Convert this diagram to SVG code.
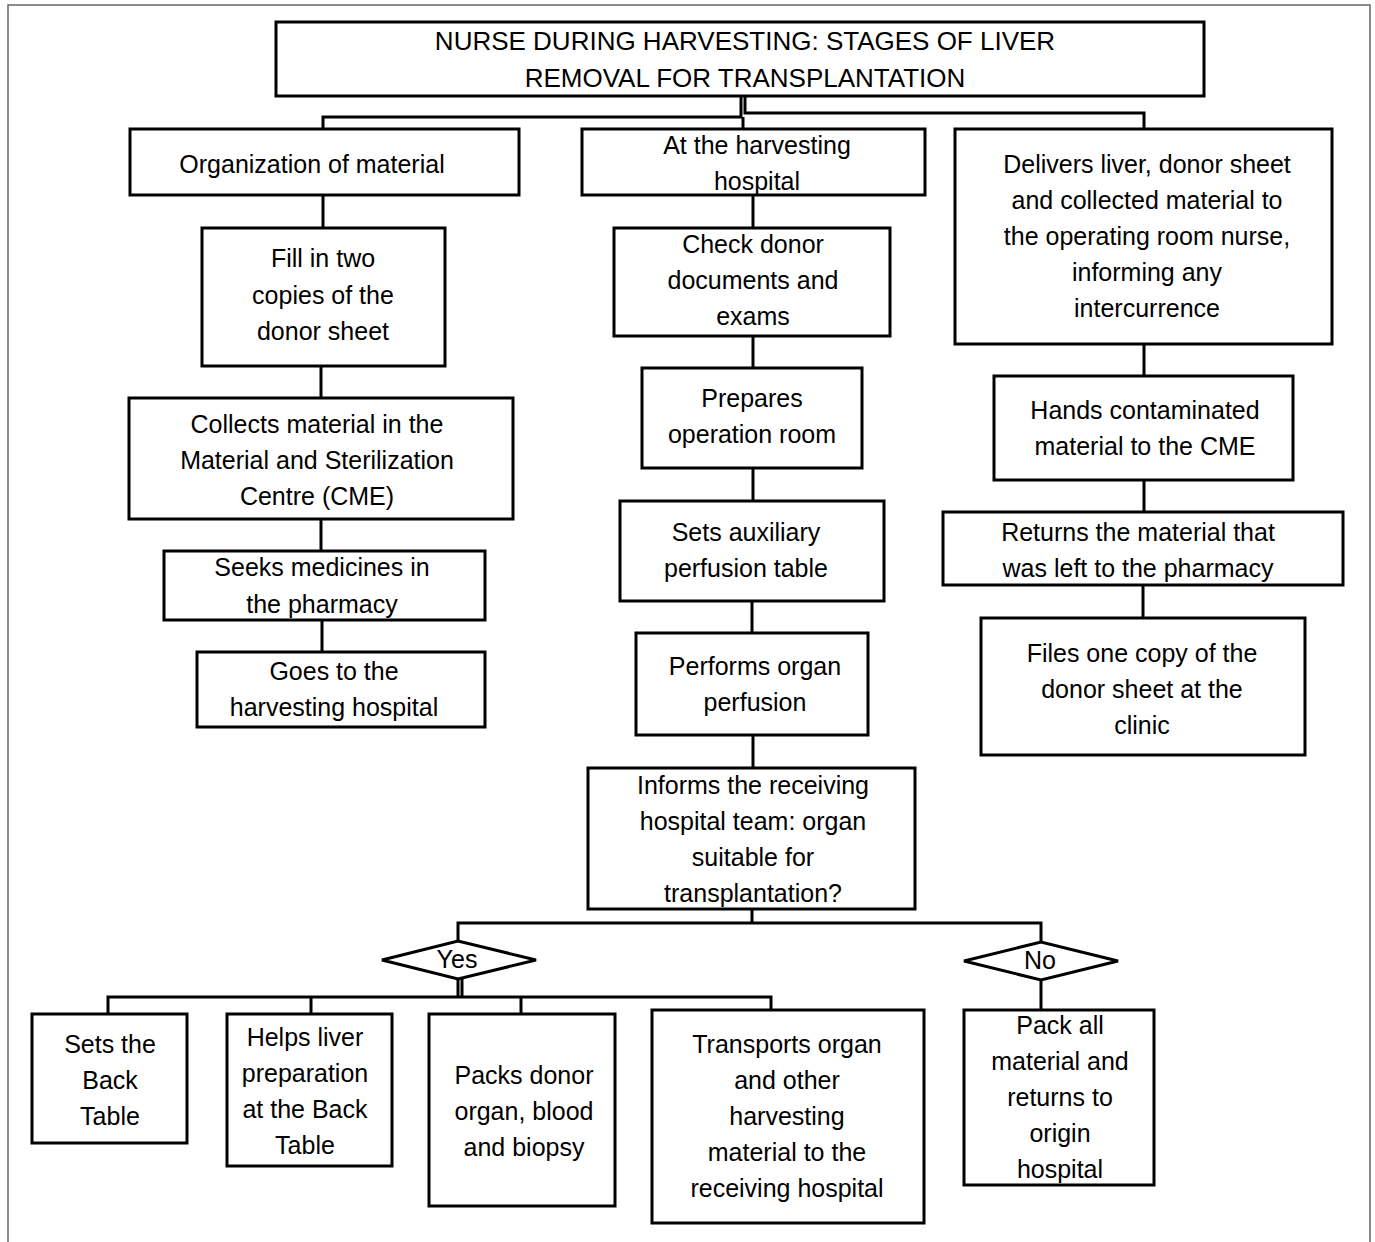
<svg xmlns="http://www.w3.org/2000/svg" width="1375" height="1242" viewBox="0 0 1375 1242">
<style>
  .box{fill:#fff;stroke:#000;stroke-width:3}
  .dia{fill:#fff;stroke:#000;stroke-width:3}
  .ln{fill:none;stroke:#000;stroke-width:3}
  .frame{fill:none;stroke:#666;stroke-width:1.5}
  text{font-family:"Liberation Sans",Arial,sans-serif;font-size:25px;fill:#000;text-anchor:middle}
  .ttl{font-size:26px}
</style>
<rect width="1375" height="1242" fill="#fff"/>
<path class="frame" d="M8 1242 V5 H1370 V1242"/>
<g id="connectors">
  <path class="ln" d="M741 96 V117 H323 V129"/>
  <path class="ln" d="M745 96 V113 H1144 V129"/>
  <path class="ln" d="M743 117 V129"/>
  <path class="ln" d="M323 195 V228"/>
  <path class="ln" d="M321 366 V398"/>
  <path class="ln" d="M321 519 V551"/>
  <path class="ln" d="M322 620 V652"/>
  <path class="ln" d="M753 195 V228"/>
  <path class="ln" d="M753 336 V368"/>
  <path class="ln" d="M753 468 V501"/>
  <path class="ln" d="M752 601 V633"/>
  <path class="ln" d="M753 735 V768"/>
  <path class="ln" d="M752 909 V923"/>
  <path class="ln" d="M458 941 V923 H1041 V942"/>
  <path class="ln" d="M458 979 V997"/>
  <path class="ln" d="M462 979 V997"/>
  <path class="ln" d="M108 1014 V997 H771 V1010"/>
  <path class="ln" d="M311 997 V1014"/>
  <path class="ln" d="M521 997 V1014"/>
  <path class="ln" d="M1041 980 V1010"/>
  <path class="ln" d="M1144 344 V376"/>
  <path class="ln" d="M1144 480 V512"/>
  <path class="ln" d="M1143 585 V618"/>
</g>
<g id="title">
  <rect class="box" x="276" y="22" width="928" height="74"/>
  <text class="ttl" x="745" y="50">NURSE DURING HARVESTING: STAGES OF LIVER</text>
  <text class="ttl" x="745" y="87">REMOVAL FOR TRANSPLANTATION</text>
</g>
<g id="organization">
  <rect class="box" x="130" y="129" width="389" height="66"/>
  <text x="312" y="173">Organization of material</text>
</g>
<g id="at-harvesting">
  <rect class="box" x="582" y="129" width="343" height="66"/>
  <text x="757" y="154">At the harvesting</text>
  <text x="757" y="190">hospital</text>
</g>
<g id="delivers">
  <rect class="box" x="955" y="129" width="377" height="215"/>
  <text x="1147" y="173">Delivers liver, donor sheet</text>
  <text x="1147" y="209">and collected material to</text>
  <text x="1147" y="245">the operating room nurse,</text>
  <text x="1147" y="281">informing any</text>
  <text x="1147" y="317">intercurrence</text>
</g>
<g id="fill-in">
  <rect class="box" x="202" y="228" width="243" height="138"/>
  <text x="323" y="267">Fill in two</text>
  <text x="323" y="304">copies of the</text>
  <text x="323" y="340">donor sheet</text>
</g>
<g id="collects">
  <rect class="box" x="129" y="398" width="384" height="121"/>
  <text x="317" y="433">Collects material in the</text>
  <text x="317" y="469">Material and Sterilization</text>
  <text x="317" y="505">Centre (CME)</text>
</g>
<g id="seeks">
  <rect class="box" x="164" y="551" width="321" height="69"/>
  <text x="322" y="576">Seeks medicines in</text>
  <text x="322" y="613">the pharmacy</text>
</g>
<g id="goes">
  <rect class="box" x="197" y="652" width="288" height="75"/>
  <text x="334" y="680">Goes to the</text>
  <text x="334" y="716">harvesting hospital</text>
</g>
<g id="check">
  <rect class="box" x="614" y="228" width="276" height="108"/>
  <text x="753" y="253">Check donor</text>
  <text x="753" y="289">documents and</text>
  <text x="753" y="325">exams</text>
</g>
<g id="prepares">
  <rect class="box" x="642" y="368" width="220" height="100"/>
  <text x="752" y="407">Prepares</text>
  <text x="752" y="443">operation room</text>
</g>
<g id="sets-aux">
  <rect class="box" x="620" y="501" width="264" height="100"/>
  <text x="746" y="541">Sets auxiliary</text>
  <text x="746" y="577">perfusion table</text>
</g>
<g id="performs">
  <rect class="box" x="636" y="633" width="232" height="102"/>
  <text x="755" y="675">Performs organ</text>
  <text x="755" y="711">perfusion</text>
</g>
<g id="informs">
  <rect class="box" x="588" y="768" width="327" height="141"/>
  <text x="753" y="794">Informs the receiving</text>
  <text x="753" y="830">hospital team: organ</text>
  <text x="753" y="866">suitable for</text>
  <text x="753" y="902">transplantation?</text>
</g>
<g id="yes">
  <polygon class="dia" points="382,960 458,941 536,960 458,979"/>
  <text x="457" y="968">Yes</text>
</g>
<g id="no">
  <polygon class="dia" points="964,961 1041,942 1118,961 1041,980"/>
  <text x="1040" y="969">No</text>
</g>
<g id="hands">
  <rect class="box" x="994" y="376" width="299" height="104"/>
  <text x="1145" y="419">Hands contaminated</text>
  <text x="1145" y="455">material to the CME</text>
</g>
<g id="returns">
  <rect class="box" x="943" y="512" width="400" height="73"/>
  <text x="1138" y="541">Returns the material that</text>
  <text x="1138" y="577">was left to the pharmacy</text>
</g>
<g id="files">
  <rect class="box" x="981" y="618" width="324" height="137"/>
  <text x="1142" y="662">Files one copy of the</text>
  <text x="1142" y="698">donor sheet at the</text>
  <text x="1142" y="734">clinic</text>
</g>
<g id="sets-back">
  <rect class="box" x="32" y="1014" width="155" height="129"/>
  <text x="110" y="1053">Sets the</text>
  <text x="110" y="1089">Back</text>
  <text x="110" y="1125">Table</text>
</g>
<g id="helps">
  <rect class="box" x="227" y="1014" width="165" height="152"/>
  <text x="305" y="1046">Helps liver</text>
  <text x="305" y="1082">preparation</text>
  <text x="305" y="1118">at the Back</text>
  <text x="305" y="1154">Table</text>
</g>
<g id="packs">
  <rect class="box" x="429" y="1014" width="186" height="192"/>
  <text x="524" y="1084">Packs donor</text>
  <text x="524" y="1120">organ, blood</text>
  <text x="524" y="1156">and biopsy</text>
</g>
<g id="transports">
  <rect class="box" x="652" y="1010" width="272" height="213"/>
  <text x="787" y="1053">Transports organ</text>
  <text x="787" y="1089">and other</text>
  <text x="787" y="1125">harvesting</text>
  <text x="787" y="1161">material to the</text>
  <text x="787" y="1197">receiving hospital</text>
</g>
<g id="pack-all">
  <rect class="box" x="964" y="1010" width="190" height="175"/>
  <text x="1060" y="1034">Pack all</text>
  <text x="1060" y="1070">material and</text>
  <text x="1060" y="1106">returns to</text>
  <text x="1060" y="1142">origin</text>
  <text x="1060" y="1178">hospital</text>
</g>
</svg>
